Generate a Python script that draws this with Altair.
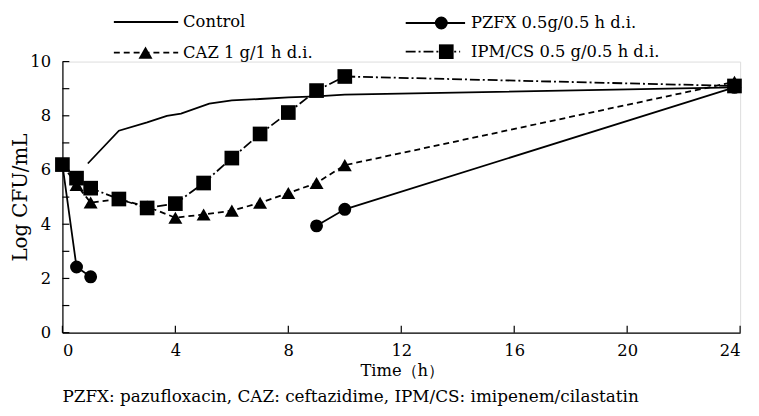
import altair as alt
import pandas as pd

FONT = "DejaVu Serif"

series_names = ["Control", "PZFX 0.5g/0.5 h d.i.", "CAZ 1 g/1 h d.i.", "IPM/CS 0.5 g/0.5 h d.i."]

control_t = [0.9, 2, 3, 3.7, 4.2, 5.2, 6, 7, 8, 9, 10, 23.8]
control_v = [6.24, 7.45, 7.76, 8.0, 8.08, 8.45, 8.57, 8.62, 8.68, 8.72, 8.78, 9.05]

pzfx_t = [0, 0.5, 1, 9, 10, 23.8]
pzfx_v = [6.2, 2.42, 2.06, 3.94, 4.55, 9.05]
pzfx_seg = [1, 1, 1, 2, 2, 2]

caz_t = [0, 0.5, 1, 2, 3, 4, 5, 6, 7, 8, 9, 10, 23.8]
caz_v = [6.2, 5.45, 4.8, 4.92, 4.65, 4.24, 4.36, 4.5, 4.79, 5.15, 5.52, 6.18, 9.25]

ipm_t = [0, 0.5, 1, 2, 3, 4, 5, 6, 7, 8, 9, 10, 23.8]
ipm_v = [6.2, 5.7, 5.33, 4.93, 4.6, 4.76, 5.52, 6.44, 7.33, 8.12, 8.93, 9.45, 9.1]

x_ticks = [0, 4, 8, 12, 16, 20, 24]
y_labels = [0, 2, 4, 6, 8, 10]
y_ticks = [0, 1, 2, 3, 4, 5, 6, 7, 8, 9, 10]

footnote = "PZFX: pazufloxacin, CAZ: ceftazidime, IPM/CS: imipenem/cilastatin"

W, H = 685, 274

xscale = alt.Scale(domain=[0, 24], nice=False, zero=False)
yscale = alt.Scale(domain=[0, 10], nice=False)

X = alt.X("t:Q", scale=xscale, axis=alt.Axis(
    values=x_ticks, ticks=False, grid=False, domainColor="black", domainWidth=1.2,
    labelFont=FONT, labelFontSize=16.5, labelColor="black", labelPadding=10,
    title="Time（h）", titleFont=FONT, titleFontSize=16.5, titleFontWeight="normal",
    titleColor="black", titleX=343, titleY=38, titleBaseline="middle", titleAlign="center"))
Y = alt.Y("v:Q", scale=yscale, axis=alt.Axis(
    values=y_labels, ticks=False, grid=False, domainColor="black", domainWidth=1.2,
    labelFont=FONT, labelFontSize=16.5, labelColor="black", labelPadding=12,
    title="Log CFU/mL", titleFont=FONT, titleFontSize=20, titleFontWeight="normal",
    titleColor="black", titleX=-42, titleY=137, titleAngle=-90,
    titleBaseline="middle", titleAlign="center"))

df_control = pd.DataFrame({"t": control_t, "v": control_v})
df_pzfx = pd.DataFrame({"t": pzfx_t, "v": pzfx_v, "seg": pzfx_seg})
df_caz = pd.DataFrame({"t": caz_t, "v": caz_v})
df_ipm = pd.DataFrame({"t": ipm_t, "v": ipm_v})

LW = 1.8
layers = []
# tick marks (inward)
layers.append(alt.Chart(pd.DataFrame({"v": y_ticks})).mark_rule(color="black", strokeWidth=1.2)
              .encode(y=Y, x=alt.value(0), x2=alt.value(7)))
layers.append(alt.Chart(pd.DataFrame({"t": x_ticks})).mark_rule(color="black", strokeWidth=1.2)
              .encode(x=X, y=alt.value(H), y2=alt.value(H - 7)))

layers.append(alt.Chart(df_control).mark_line(color="black", strokeWidth=LW).encode(x=X, y=Y))

layers.append(alt.Chart(df_pzfx).mark_line(color="black", strokeWidth=LW)
              .encode(x=X, y=Y, detail="seg:N"))
layers.append(alt.Chart(df_pzfx).mark_point(shape="circle", filled=True, size=170, color="black", opacity=1)
              .encode(x=X, y=Y))

layers.append(alt.Chart(df_caz).mark_line(color="black", strokeWidth=LW, strokeDash=[6, 4])
              .encode(x=X, y=Y))
layers.append(alt.Chart(df_caz).mark_point(shape="triangle-up", filled=True, size=200, color="black", opacity=1)
              .encode(x=X, y=Y))

layers.append(alt.Chart(df_ipm).mark_line(color="black", strokeWidth=LW, strokeDash=[10, 3, 2, 3])
              .encode(x=X, y=Y))
layers.append(alt.Chart(df_ipm).mark_point(shape="square", filled=True, size=220, color="black", opacity=1)
              .encode(x=X, y=Y))

# manual legend
leg_specs = [
    # name, line x0, x1, y, marker, marker x, dash, text x
    (series_names[0], 52, 117, -40, None, 0, None, 122),
    (series_names[1], 347, 407, -39, "circle", 383, None, 413),
    (series_names[2], 52, 117, -9, "triangle-up", 84, [6, 4], 122),
    (series_names[3], 347, 402, -10, "square", 388, [10, 3, 2, 3], 413),
]
one = pd.DataFrame({"a": [0]})
for name, x0, x1, yy, shp, mx, dash, tx in leg_specs:
    rule_kw = dict(color="black", strokeWidth=LW)
    if dash:
        rule_kw["strokeDash"] = dash
    layers.append(alt.Chart(one).mark_rule(**rule_kw)
                  .encode(x=alt.value(x0), x2=alt.value(x1), y=alt.value(yy)))
    if shp:
        sz = {"circle": 170, "triangle-up": 200, "square": 220}[shp]
        layers.append(alt.Chart(one).mark_point(shape=shp, filled=True, size=sz, color="black", opacity=1)
                      .encode(x=alt.value(mx), y=alt.value(yy)))
    layers.append(alt.Chart(pd.DataFrame({"txt": [name]})).mark_text(
        font=FONT, fontSize=16.5, color="black", align="left", baseline="middle")
        .encode(x=alt.value(tx), y=alt.value(yy), text="txt:N"))

layers.append(alt.Chart(pd.DataFrame({"txt": [footnote]})).mark_text(
    font=FONT, fontSize=17, color="black", align="left", baseline="middle")
    .encode(x=alt.value(0), y=alt.value(339), text="txt:N"))

chart = alt.layer(*layers).properties(
    width=W, height=H,
    autosize=alt.AutoSizeParams(type="none"),
    padding={"left": 55, "top": 52, "right": 11, "bottom": 74},
).configure_view(stroke=None).configure(background="white")

chart.save("out.html", embed_options={"renderer": "svg", "actions": False})
